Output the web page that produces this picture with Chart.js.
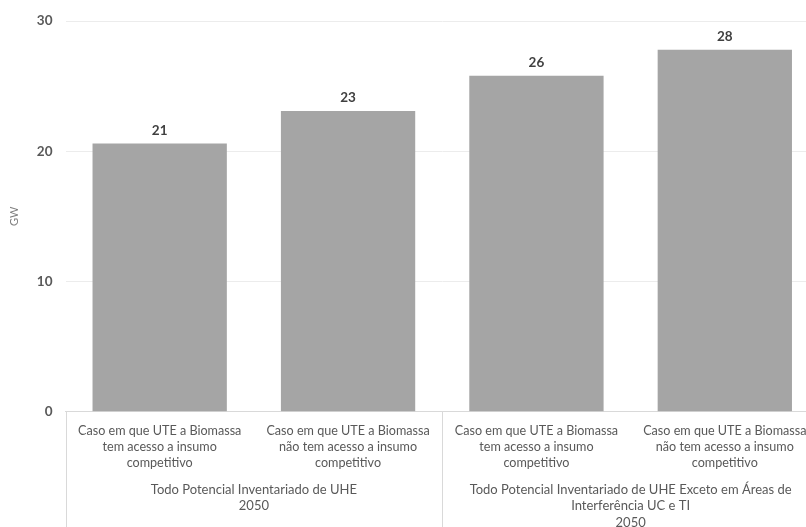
<!DOCTYPE html>
<html lang="pt">
<head>
<meta charset="utf-8">
<title>Potencial UHE 2050</title>
<script src="https://cdn.jsdelivr.net/npm/chart.js@4"></script>
<style>
  html, body { margin: 0; padding: 0; background: #fff; overflow: hidden; }
  #wrap { width: 819px; height: 527px; }
</style>
</head>
<body>
<div id="wrap"><canvas id="uhe-chart" width="819" height="527"></canvas></div>
<script>
// ── Data ────────────────────────────────────────────────────────────────────
const categories = [
  ['Caso em que UTE a Biomassa', 'tem acesso a insumo', 'competitivo'],
  ['Caso em que UTE a Biomassa', 'não tem acesso a insumo', 'competitivo'],
  ['Caso em que UTE a Biomassa', 'tem acesso a insumo', 'competitivo'],
  ['Caso em que UTE a Biomassa', 'não tem acesso a insumo', 'competitivo'],
];
const groupLabels = [
  ['Todo Potencial Inventariado de UHE', '2050'],
  ['Todo Potencial Inventariado de UHE Exceto em Áreas de', 'Interferência UC e TI', '2050'],
];
const groupSizes = [2, 2];
const values = [20.6, 23.1, 25.8, 27.8];
const yTicks = [0, 10, 20, 30];

const FONT = 'Lato, "Open Sans", sans-serif';
const TEXT = '#595959';
const LINE = '#d9d9d9';

// ── Value labels above the bars ─────────────────────────────────────────────
const valueLabels = {
  id: 'valueLabels',
  afterDatasetsDraw(chart) {
    const ctx = chart.ctx;
    const meta = chart.getDatasetMeta(0);
    ctx.save();
    ctx.font = `bold 13.5px ${FONT}`;
    ctx.fillStyle = '#404040';
    ctx.textAlign = 'center';
    ctx.textBaseline = 'middle';
    meta.data.forEach((bar, i) => {
      ctx.fillText(Math.round(values[i]), bar.x, bar.y - 13);
    });
    ctx.restore();
  },
};

// ── Group labels and separators under the categories ────────────────────────
const groupAxis = {
  id: 'groupAxis',
  afterDraw(chart) {
    const ctx = chart.ctx;
    const x = chart.scales.x;
    const bottom = chart.height;
    const top = x.top;
    ctx.save();
    ctx.strokeStyle = LINE;
    ctx.lineWidth = 1;
    ctx.font = `13px ${FONT}`;
    ctx.fillStyle = TEXT;
    ctx.textAlign = 'center';
    ctx.textBaseline = 'middle';

    let start = 0;
    groupSizes.forEach((n, g) => {
      const left = x.getPixelForValue(start - 0.5);
      const right = x.getPixelForValue(start + n - 0.5);
      [left, right].forEach(px => {
        ctx.beginPath();
        ctx.moveTo(Math.round(px) + 0.5, top);
        ctx.lineTo(Math.round(px) + 0.5, bottom);
        ctx.stroke();
      });
      groupLabels[g].forEach((line, j) => {
        ctx.fillText(line, (left + right) / 2, top + 78 + j * 16.5);
      });
      start += n;
    });
    ctx.restore();
  },
};

// ── Chart ───────────────────────────────────────────────────────────────────
new Chart(document.getElementById('uhe-chart').getContext('2d'), {
  type: 'bar',
  data: {
    labels: categories,
    datasets: [{
      label: 'GW',
      data: values,
      backgroundColor: '#a5a5a5',
      borderWidth: 0,
      categoryPercentage: 1,
      barPercentage: 0.713,
    }],
  },
  options: {
    responsive: false,
    animation: false,
    layout: { padding: { top: 19.3, right: 0, bottom: 0, left: 0 } },
    plugins: {
      legend: { display: false },
      tooltip: { enabled: false },
    },
    scales: {
      x: {
        grid: { display: false, drawTicks: false },
        border: { display: true, color: LINE },
        ticks: {
          color: TEXT,
          font: { family: FONT, size: 12.6, lineHeight: 1.27 },
          padding: 11,
          maxRotation: 0,
          autoSkip: false,
        },
        afterFit(scale) {
          scale.height = 115.3;
          scale.paddingLeft = 0;
          scale.paddingRight = 0;
        },
      },
      y: {
        min: 0,
        max: 30,
        afterBuildTicks(scale) { scale.ticks = yTicks.map(v => ({ value: v })); },
        grid: {
          drawTicks: false,
          color: ctx => ctx.tick && ctx.tick.value === 0 ? LINE : '#ececec',
        },
        border: { display: false },
        ticks: {
          color: TEXT,
          font: { family: FONT, size: 13.5, weight: 'bold' },
          padding: 13,
        },
        title: {
          display: true,
          text: 'GW',
          color: '#7f7f7f',
          font: { family: FONT, size: 11 },
          padding: { top: 8, bottom: 0 },
        },
        afterFit(scale) { scale.width = 65.5; },
      },
    },
  },
  plugins: [valueLabels, groupAxis],
});
</script>
</body>
</html>
